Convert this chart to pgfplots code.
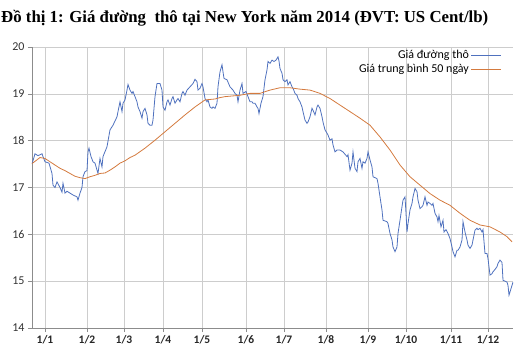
\documentclass[border=0pt]{standalone}
\usepackage{fontspec}
\setmainfont{Carlito}
\newfontfamily\titlefont{Liberation Serif}
\usepackage{pgfplots}
\pgfplotsset{compat=1.18}
\definecolor{blueline}{RGB}{79,113,190}
\definecolor{orangeline}{RGB}{212,122,62}
\definecolor{gridc}{RGB}{205,205,205}
\definecolor{axc}{RGB}{140,140,140}
\begin{document}
\begin{tikzpicture}
\useasboundingbox (-32pt,-31pt) rectangle (492pt,328pt);
\node[anchor=base west, inner sep=0pt, font=\titlefont\bfseries\fontsize{16.8}{20}\selectfont] at (-31pt,305pt) {Đồ thị 1: Giá đường~ thô tại New York năm 2014 (ĐVT: US Cent/lb)};
\begin{axis}[
  at={(0pt,0pt)}, anchor=south west,
  scale only axis, width=481pt, height=281pt,
  xmin=0, xmax=481, ymin=14, ymax=20,
  xtick={13,55,92,131,170,214,252,294,336,374,419,456},
  xticklabels={1/1,\raisebox{-2pt}{1/2},\raisebox{2pt}{1/3},1/4,\raisebox{-2pt}{1/5},1/6,\raisebox{2pt}{1/7},\raisebox{-2pt}{1/8},1/9,\raisebox{3pt}{1/10},1/11,1/12},
  ytick={14,15,16,17,18,19,20},
  grid=major, grid style={gridc, line width=0.6pt},
  axis x line*=bottom, axis y line*=left,
  axis line style={axc, line width=0.6pt, -},
  tick style={axc, line width=0.6pt},
  tick align=outside, major tick length=4pt,
  xticklabel style={font=\fontsize{11.5}{13}\selectfont\bfseries, text=black!85},
  yticklabel style={font=\fontsize{12}{14}\selectfont, text=black!80},
  /pgf/number format/assume math mode=true,
  legend cell align=right,
  legend plot pos=right,
  legend image code/.code={\draw[#1] (0pt,0pt) -- (30pt,0pt);},
  legend style={at={(rel axis cs:0.977,0.995)}, anchor=north east, draw=none, fill=none,
    font=\fontsize{12}{14}\selectfont, row sep=0pt, inner sep=0pt},
]
\addplot[blueline, line width=0.8pt] coordinates {
(0,17.5)(3,17.72)(6,17.68)(10,17.72)(11,17.66)(13,17.55)(17,17.52)(20,17.3)(21,17.05)(23,17.0)
(25,17.12)(28,17.0)(30,16.9)(31,17.09)(33,16.88)(35,16.92)(38,16.88)(41,16.84)(45,16.8)(46,16.73)
(48,16.88)(50,17.0)(51,17.23)(53,17.34)(55,17.36)(56,17.76)(57,17.84)(59,17.66)(61,17.55)(63,17.52)
(65,17.37)(66,17.3)(68,17.62)(70,17.44)(71,17.66)(75,17.87)(78,18.23)(81,18.33)(85,18.51)(86,18.62)
(88,18.83)(90,18.62)(91,18.8)(93,18.87)(95,19.08)(96,19.2)(98,19.08)(100,19.01)(101,19.05)(103,18.94)
(105,18.83)(106,18.72)(108,18.62)(110,18.48)(111,18.62)(113,18.69)(115,18.55)(116,18.37)(118,18.33)(120,18.33)
(121,18.44)(123,18.94)(125,19.22)(128,19.22)(130,19.08)(131,18.72)(133,18.65)(135,18.83)(136,18.87)(138,18.76)
(140,18.9)(141,18.94)(143,18.8)(145,18.87)(146,18.9)(148,18.83)(150,19.01)(151,19.05)(153,18.97)(155,19.08)
(158,19.15)(161,19.22)(163,19.31)(165,19.26)(166,19.08)(168,19.12)(170,19.22)(171,19.15)(173,18.9)(175,18.83)
(176,18.87)(178,18.72)(180,18.69)(181,18.72)(183,18.69)(185,18.8)(186,19.15)(188,19.47)(190,19.62)(191,19.47)
(192,19.33)(195,19.3)(198,19.15)(201,19.08)(203,19.01)(205,18.97)(206,18.83)(208,19.08)(210,19.22)(211,19.01)
(214,19.05)(216,18.94)(218,18.83)(220,18.83)(221,18.8)(223,18.8)(225,18.72)(226,18.69)(227,18.58)(229,18.8)
(231,18.94)(233,19.3)(235,19.51)(236,19.69)(238,19.65)(240,19.72)(242,19.69)(244,19.72)(246,19.79)(247,19.7)
(248,19.54)(250,19.44)(251,19.3)(253,19.26)(255,19.3)(256,19.19)(258,19.26)(260,19.15)(261,19.12)(263,19.01)
(265,18.97)(266,18.9)(268,18.83)(270,18.72)(271,18.62)(273,18.44)(275,18.37)(276,18.4)(278,18.51)(280,18.69)
(281,18.65)(283,18.55)(285,18.72)(286,18.76)(288,18.69)(290,18.51)(291,18.4)(293,18.23)(295,18.16)(296,18.12)
(298,18.01)(300,18.04)(301,17.91)(303,17.76)(305,17.8)(308,17.8)(311,17.76)(315,17.66)(316,17.7)(318,17.37)
(320,17.52)(321,17.76)(323,17.41)(325,17.34)(326,17.55)(328,17.62)(330,17.41)(331,17.55)(333,17.52)(335,17.62)
(336,17.76)(338,17.59)(340,17.44)(341,17.23)(345,17.19)(346,17.09)(348,16.8)(350,16.52)(351,16.3)(355,16.27)
(356,16.23)(358,16.02)(360,15.88)(361,15.73)(363,15.63)(365,15.73)(366,16.02)(368,16.3)(370,16.59)(371,16.73)
(373,16.8)(374,16.45)(375,16.05)(376,16.23)(378,16.52)(380,16.66)(381,16.8)(383,16.98)(385,16.91)(386,16.73)
(388,16.55)(390,16.59)(391,16.62)(393,16.8)(395,16.62)(396,16.69)(398,16.66)(400,16.62)(401,16.66)(403,16.45)
(405,16.37)(406,16.27)(407,16.4)(409,16.16)(411,16.3)(412,16.05)(414,16.1)(416,16.02)(418,15.91)(420,15.73)
(421,15.63)(423,15.52)(425,15.66)(426,15.66)(428,15.73)(430,15.88)(431,16.27)(433,16.05)(435,15.88)(436,15.77)
(438,15.7)(440,15.77)(441,15.88)(443,16.09)(445,16.13)(446,16.1)(448,16.13)(450,16.05)(451,16.1)(453,15.59)
(455,15.59)(456,15.48)(458,15.13)(460,15.16)(461,15.2)(463,15.25)(465,15.31)(466,15.38)(468,15.45)(470,15.4)
(471,15.02)(473,15.0)(475,14.98)(476,14.91)(477,14.7)(479,14.84)(481,14.98)
};
\addlegendentry{Giá đường thô}
\addplot[orangeline, line width=0.8pt] coordinates {
(0,17.51)(8,17.64)(13,17.62)(18,17.55)(23,17.48)(28,17.41)(33,17.36)(38,17.3)(43,17.24)(48,17.21)
(53,17.19)(58,17.23)(63,17.26)(68,17.3)(73,17.31)(78,17.37)(83,17.44)(88,17.52)(93,17.57)(98,17.64)
(103,17.69)(113,17.84)(123,18.01)(133,18.19)(143,18.37)(153,18.55)(163,18.72)(173,18.87)(178,18.88)(183,18.89)
(188,18.92)(193,18.94)(208,18.97)(218,19.01)(228,19.01)(238,19.08)(248,19.13)(258,19.13)(268,19.1)(278,19.08)
(288,19.01)(298,18.9)(308,18.76)(318,18.62)(328,18.48)(338,18.33)(348,18.08)(358,17.8)(368,17.48)(378,17.23)
(388,17.05)(398,16.87)(408,16.73)(418,16.62)(428,16.45)(438,16.3)(448,16.2)(458,16.16)(468,16.05)(475,15.95)(480,15.84)
};
\addlegendentry{Giá trung bình 50 ngày}
\end{axis}
\end{tikzpicture}
\end{document}
